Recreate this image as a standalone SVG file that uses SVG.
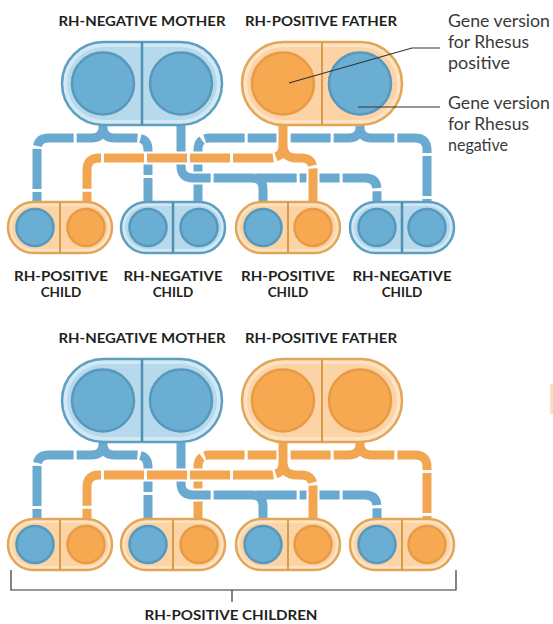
<svg xmlns="http://www.w3.org/2000/svg" xmlns:xlink="http://www.w3.org/1999/xlink" width="553" height="624" viewBox="0 0 553 624">
<style>
.lbl{font-family:Lato,"Open Sans","Liberation Sans",sans-serif;font-weight:700;font-size:13.5px;fill:#231f20;}
.ann{font-family:Lato,"Open Sans","Liberation Sans",sans-serif;font-weight:400;font-size:17px;fill:#3a3a3a;}
.case{fill:none;stroke:#ffffff;stroke-width:13;stroke-linejoin:round;}
.lb{fill:none;stroke:#6aaad0;stroke-width:9;stroke-dasharray:40 3;stroke-linejoin:round;}
.lo{fill:none;stroke:#f3a652;stroke-width:9;stroke-dasharray:40 3;stroke-linejoin:round;}
.bo{fill:#d2e9f5;stroke:#5e9ec1;stroke-width:2.5;}
.bi{fill:#b6d9ec;}
.bd{stroke:#4f8fb3;stroke-width:2.5;}
.oo{fill:#fde3c3;stroke:#e3a556;stroke-width:2.5;}
.oi{fill:#fbd3a5;}
.od{stroke:#d99a4c;stroke-width:2;}
.cb{fill:#6aaed4;stroke:#5798bd;stroke-width:2.5;}
.co{fill:#f6a951;stroke:#e99a45;stroke-width:2.5;}
.thin{fill:none;stroke:#333333;stroke-width:1.2;}
</style>
<defs>
<path id="mL" d="M103,120 L103,128 C103,135 98,138 91,138 L49,138 Q37,138 37,150 L37,206 M103,128 C103,135 108,138 115,138 L136,138 Q148,138 148,150 L148,206"/>
<path id="mR" d="M181,120 L181,166 Q181,178 193,178 L365,178 Q377,178 377,190 L377,206 M252,178 Q263,178 263,189 L263,206"/>
<path id="fL" d="M283,120 L283,146 C283,154 278,158 270,158 L99,158 Q87,158 87,170 L87,206 M283,146 C283,154 288,158 296,158 L301,158 Q313,158 313,170 L313,206"/>
<path id="fR" d="M360,120 L360,128 C360,135 355,138 348,138 L210,138 Q198,138 198,150 L198,206 M360,128 C360,135 365,138 372,138 L415,138 Q427,138 427,150 L427,206"/>
</defs>

<!-- TOP SECTION -->
<g id="connectors-top">
<use xlink:href="#fR" class="case"/><use xlink:href="#fR" class="lb"/>
<use xlink:href="#mR" class="case"/><use xlink:href="#mR" class="lb"/>
<use xlink:href="#mL" class="case"/><use xlink:href="#mL" class="lb"/>
<use xlink:href="#fL" class="case"/><use xlink:href="#fL" class="lo"/>
</g>

<g id="mother-top">
<text class="lbl" x="142" y="26" text-anchor="middle" textLength="167" lengthAdjust="spacingAndGlyphs">RH-NEGATIVE MOTHER</text>
<rect class="bo" x="62" y="42" width="160" height="83" rx="41.5"/>
<rect class="bi" x="67" y="47" width="150" height="73" rx="36.5"/>
<line class="bd" x1="142" y1="42" x2="142" y2="125"/>
<circle class="cb" cx="103" cy="83.5" r="31"/>
<circle class="cb" cx="181" cy="83.5" r="31"/>
</g>

<g id="father-top">
<text class="lbl" x="321" y="26" text-anchor="middle" textLength="152" lengthAdjust="spacingAndGlyphs">RH-POSITIVE FATHER</text>
<rect class="oo" x="242" y="42" width="160" height="83" rx="41.5"/>
<rect class="oi" x="247" y="47" width="150" height="73" rx="36.5"/>
<line class="od" x1="322" y1="42" x2="322" y2="125"/>
<circle class="co" cx="283" cy="83.5" r="31"/>
<circle class="cb" cx="360" cy="83.5" r="31"/>
</g>

<g id="annotations">
<polyline class="thin" points="289,83 412,48 440,48"/>
<line class="thin" x1="358" y1="107" x2="440" y2="107"/>
<text class="ann" x="448" y="27" textLength="102" lengthAdjust="spacingAndGlyphs">Gene version</text>
<text class="ann" x="448" y="48" textLength="81" lengthAdjust="spacingAndGlyphs">for Rhesus</text>
<text class="ann" x="448" y="69" textLength="62" lengthAdjust="spacingAndGlyphs">positive</text>
<text class="ann" x="448" y="109" textLength="102" lengthAdjust="spacingAndGlyphs">Gene version</text>
<text class="ann" x="448" y="130" textLength="81" lengthAdjust="spacingAndGlyphs">for Rhesus</text>
<text class="ann" x="448" y="151" textLength="60" lengthAdjust="spacingAndGlyphs">negative</text>
</g>

<g id="child1-top">
<rect class="oo" x="8" y="202" width="104" height="51" rx="25.5"/>
<rect class="oi" x="12" y="206" width="96" height="43" rx="21.5"/>
<line class="od" x1="60" y1="202" x2="60" y2="253"/>
<circle class="cb" cx="35" cy="227.5" r="18.5"/>
<circle class="co" cx="86" cy="227.5" r="18.5"/>
<text class="lbl" x="61" y="281" text-anchor="middle" textLength="94" lengthAdjust="spacingAndGlyphs">RH-POSITIVE</text>
<text class="lbl" x="61" y="297" text-anchor="middle">CHILD</text>
</g>
<g id="child2-top">
<rect class="bo" x="121" y="202" width="104" height="51" rx="25.5"/>
<rect class="bi" x="125" y="206" width="96" height="43" rx="21.5"/>
<line class="bd" x1="173" y1="202" x2="173" y2="253"/>
<circle class="cb" cx="148" cy="227.5" r="18.5"/>
<circle class="cb" cx="199" cy="227.5" r="18.5"/>
<text class="lbl" x="173" y="281" text-anchor="middle" textLength="99" lengthAdjust="spacingAndGlyphs">RH-NEGATIVE</text>
<text class="lbl" x="173" y="297" text-anchor="middle">CHILD</text>
</g>
<g id="child3-top">
<rect class="oo" x="236" y="202" width="104" height="51" rx="25.5"/>
<rect class="oi" x="240" y="206" width="96" height="43" rx="21.5"/>
<line class="od" x1="288" y1="202" x2="288" y2="253"/>
<circle class="cb" cx="263" cy="227.5" r="18.5"/>
<circle class="co" cx="313" cy="227.5" r="18.5"/>
<text class="lbl" x="288" y="281" text-anchor="middle" textLength="94" lengthAdjust="spacingAndGlyphs">RH-POSITIVE</text>
<text class="lbl" x="288" y="297" text-anchor="middle">CHILD</text>
</g>
<g id="child4-top">
<rect class="bo" x="350" y="202" width="104" height="51" rx="25.5"/>
<rect class="bi" x="354" y="206" width="96" height="43" rx="21.5"/>
<line class="bd" x1="402" y1="202" x2="402" y2="253"/>
<circle class="cb" cx="377" cy="227.5" r="18.5"/>
<circle class="cb" cx="427" cy="227.5" r="18.5"/>
<text class="lbl" x="402" y="281" text-anchor="middle" textLength="99" lengthAdjust="spacingAndGlyphs">RH-NEGATIVE</text>
<text class="lbl" x="402" y="297" text-anchor="middle">CHILD</text>
</g>

<!-- BOTTOM SECTION -->
<g id="connectors-bottom" transform="translate(0,317)">
<use xlink:href="#fR" class="case"/><use xlink:href="#fR" class="lo"/>
<use xlink:href="#mR" class="case"/><use xlink:href="#mR" class="lb"/>
<use xlink:href="#mL" class="case"/><use xlink:href="#mL" class="lb"/>
<use xlink:href="#fL" class="case"/><use xlink:href="#fL" class="lo"/>
</g>

<g id="mother-bottom" transform="translate(0,317)">
<text class="lbl" x="142" y="26" text-anchor="middle" textLength="167" lengthAdjust="spacingAndGlyphs">RH-NEGATIVE MOTHER</text>
<rect class="bo" x="62" y="42" width="160" height="83" rx="41.5"/>
<rect class="bi" x="67" y="47" width="150" height="73" rx="36.5"/>
<line class="bd" x1="142" y1="42" x2="142" y2="125"/>
<circle class="cb" cx="103" cy="83.5" r="31"/>
<circle class="cb" cx="181" cy="83.5" r="31"/>
</g>

<g id="father-bottom" transform="translate(0,317)">
<text class="lbl" x="321" y="26" text-anchor="middle" textLength="152" lengthAdjust="spacingAndGlyphs">RH-POSITIVE FATHER</text>
<rect class="oo" x="242" y="42" width="160" height="83" rx="41.5"/>
<rect class="oi" x="247" y="47" width="150" height="73" rx="36.5"/>
<line class="od" x1="322" y1="42" x2="322" y2="125"/>
<circle class="co" cx="283" cy="83.5" r="31"/>
<circle class="co" cx="360" cy="83.5" r="31"/>
</g>

<g id="child1-bottom" transform="translate(0,317)">
<rect class="oo" x="8" y="202" width="104" height="51" rx="25.5"/>
<rect class="oi" x="12" y="206" width="96" height="43" rx="21.5"/>
<line class="od" x1="60" y1="202" x2="60" y2="253"/>
<circle class="cb" cx="35" cy="227.5" r="18.5"/>
<circle class="co" cx="86" cy="227.5" r="18.5"/>
</g>
<g id="child2-bottom" transform="translate(0,317)">
<rect class="oo" x="121" y="202" width="104" height="51" rx="25.5"/>
<rect class="oi" x="125" y="206" width="96" height="43" rx="21.5"/>
<line class="od" x1="173" y1="202" x2="173" y2="253"/>
<circle class="cb" cx="148" cy="227.5" r="18.5"/>
<circle class="co" cx="199" cy="227.5" r="18.5"/>
</g>
<g id="child3-bottom" transform="translate(0,317)">
<rect class="oo" x="236" y="202" width="104" height="51" rx="25.5"/>
<rect class="oi" x="240" y="206" width="96" height="43" rx="21.5"/>
<line class="od" x1="288" y1="202" x2="288" y2="253"/>
<circle class="cb" cx="263" cy="227.5" r="18.5"/>
<circle class="co" cx="313" cy="227.5" r="18.5"/>
</g>
<g id="child4-bottom" transform="translate(0,317)">
<rect class="oo" x="350" y="202" width="104" height="51" rx="25.5"/>
<rect class="oi" x="354" y="206" width="96" height="43" rx="21.5"/>
<line class="od" x1="402" y1="202" x2="402" y2="253"/>
<circle class="cb" cx="377" cy="227.5" r="18.5"/>
<circle class="co" cx="427" cy="227.5" r="18.5"/>
</g>

<g id="bracket">
<polyline class="thin" points="11,570 11,590 456,590 456,570"/>
<line class="thin" x1="232" y1="590" x2="232" y2="602"/>
<text class="lbl" x="231" y="620" text-anchor="middle" textLength="173" lengthAdjust="spacingAndGlyphs">RH-POSITIVE CHILDREN</text>
</g>
<rect x="550" y="384" width="3" height="30" fill="#f8d2a4" opacity="0.7"/>
</svg>
